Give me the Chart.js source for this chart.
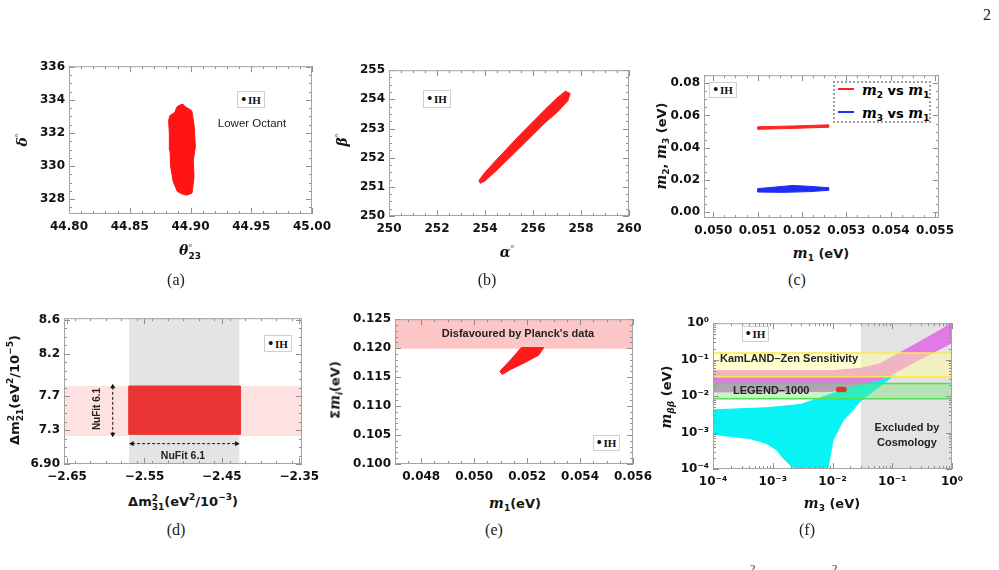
<!DOCTYPE html>
<html>
<head>
<meta charset="utf-8">
<script src="https://cdn.jsdelivr.net/npm/chart.js@4.4.1/dist/chart.umd.min.js"></script>
<style>
    body { margin: 0; background: #fff; }
    #page { position: relative; width: 999px; height: 570px; overflow: hidden; background: #fff; }
    canvas { position: absolute; }
    .t { position: absolute; white-space: nowrap; transform: translate(-50%, -50%); color: #151515; line-height: 1; }
    .rot { transform: translate(-50%, -50%) rotate(-90deg); }
    .cap { font-family: 'Liberation Serif', serif; font-size: 16px; color: #222; }
    .ax { font-family: 'DejaVu Sans', sans-serif; font-weight: bold; font-size: 13px; }
    .v { font-family: 'DejaVu Serif', serif; font-style: italic; font-weight: bold; font-size: 14px; }
    .ss { display: inline-block; vertical-align: -4px; font-size: 9px; line-height: 9px; text-align: left; }
    .lab { font-family: 'Liberation Sans', sans-serif; font-weight: bold; font-size: 11px; color: #222; }
    .ih { position: absolute; border: 1px solid #cfcfcf; background: #fff; box-sizing: border-box;
          font-family: 'Liberation Serif', serif; font-weight: bold; font-size: 11px; color: #111;
          display: flex; align-items: center; justify-content: center; }
    .ih b { font-size: 14px; margin-right: 2px; line-height: 10px; }
    sub { font-size: 9px; vertical-align: -3px; }
    sup { font-size: 9px; vertical-align: 6px; }
</style>
</head>
<body>
<div id="page">
    <div class="t cap" style="left:987px;top:15px;">2</div>

    <!-- (a) -->
    <div class="t rot" style="left:22px;top:140px;"><span class="v">δ</span><sup>°</sup></div>
    <div class="t" style="left:190px;top:251px;"><span class="v">θ</span><span class="ss">°<br><b style="font-family:'DejaVu Sans'">23</b></span></div>
    <div class="t cap" style="left:176px;top:280px;">(a)</div>
    <div class="ih" style="left:237px;top:91px;width:28px;height:17px;"><b>•</b>IH</div>
    <div class="t" style="left:252px;top:124px;font-family:'Liberation Sans',sans-serif;font-size:11.5px;color:#222;">Lower Octant</div>

    <!-- (b) -->
    <div class="t rot" style="left:342px;top:140px;"><span class="v">β</span><sup>°</sup></div>
    <div class="t" style="left:507px;top:252px;"><span class="v">α</span><sup>°</sup></div>
    <div class="t cap" style="left:487px;top:280px;">(b)</div>
    <div class="ih" style="left:423px;top:90px;width:28px;height:18px;"><b>•</b>IH</div>

    <!-- (c) -->
    <div class="t rot ax" style="left:662px;top:146px;"><span class="v">m</span><sub>2</sub>, <span class="v">m</span><sub>3</sub> (eV)</div>
    <div class="t ax" style="left:821px;top:254px;"><span class="v">m</span><sub>1</sub> (eV)</div>
    <div class="t cap" style="left:797px;top:280px;">(c)</div>
    <div class="ih" style="left:709px;top:82px;width:28px;height:16px;"><b>•</b>IH</div>
    <div style="position:absolute;left:833px;top:81px;width:98px;height:42px;border:2px dotted #a0a0a0;box-sizing:border-box;background:#fff;"></div>
    <div style="position:absolute;left:838px;top:88px;width:16px;height:2px;background:#ff2020;"></div>
    <div class="ax" style="position:absolute;left:862px;top:82px;white-space:nowrap;"><span class="v">m</span><sub>2</sub> vs <span class="v">m</span><sub>1</sub></div>
    <div style="position:absolute;left:838px;top:111px;width:16px;height:2px;background:#2030ff;"></div>
    <div class="ax" style="position:absolute;left:862px;top:105px;white-space:nowrap;"><span class="v">m</span><sub>3</sub> vs <span class="v">m</span><sub>1</sub></div>

    <!-- (d) -->
    <div class="t rot ax" style="left:15px;top:390px;">Δm<span class="ss">2<br>21</span>(eV<sup>2</sup>/10<sup>−5</sup>)</div>
    <div class="t ax" style="left:183px;top:502px;">Δm<span class="ss">2<br>31</span>(eV<sup>2</sup>/10<sup>−3</sup>)</div>
    <div class="t cap" style="left:176px;top:530px;">(d)</div>
    <div class="ih" style="left:264px;top:335px;width:28px;height:17px;"><b>•</b>IH</div>
    <div class="t rot lab" style="left:97px;top:409px;font-size:10px;">NuFit 6.1</div>
    <div class="t lab" style="left:183px;top:455px;font-size:10.5px;">NuFit 6.1</div>

    <!-- (e) -->
    <div class="t rot ax" style="left:336px;top:390px;">Σ<span class="v">m</span><sub><i>i</i></sub>(eV)</div>
    <div class="t ax" style="left:515px;top:504px;"><span class="v">m</span><sub>1</sub>(eV)</div>
    <div class="t cap" style="left:494px;top:530px;">(e)</div>
    <div class="ih" style="left:593px;top:435px;width:27px;height:16px;"><b>•</b>IH</div>
    <div class="t lab" style="left:518px;top:333px;">Disfavoured by Planck's data</div>

    <!-- (f) -->
    <div class="t rot ax" style="left:667px;top:397px;"><span class="v">m</span><sub><i>ββ</i></sub> (eV)</div>
    <div class="t ax" style="left:832px;top:504px;"><span class="v">m</span><sub>3</sub> (eV)</div>
    <div class="t cap" style="left:807px;top:530px;">(f)</div>
    <div class="ih" style="left:742px;top:326px;width:27px;height:16px;"><b>•</b>IH</div>
    <div class="lab" style="position:absolute;left:720px;top:352px;white-space:nowrap;">KamLAND–Zen Sensitivity</div>
    <div class="lab" style="position:absolute;left:733px;top:384px;white-space:nowrap;">LEGEND–1000</div>
    <div class="t lab" style="left:907px;top:427px;">Excluded by</div>
    <div class="t lab" style="left:907px;top:442px;">Cosmology</div>

    <div class="cap" style="position:absolute;left:750px;top:562px;font-size:11px;">2</div>
    <div class="cap" style="position:absolute;left:832px;top:562px;font-size:11px;">2</div>
</div>

<script>
    // ---------- (a) delta vs theta23 ----------
    const aXTicks = [44.80, 44.85, 44.90, 44.95, 45.00];
    const aXLabels = ['44.80', '44.85', '44.90', '44.95', '45.00'];
    const aYTicks = [328, 330, 332, 334, 336];
    const aYLabels = ['328', '330', '332', '334', '336'];
    const aCloud = [
        {x: 44.890, y: 333.65}, {x: 44.8936, y: 333.75}, {x: 44.8957, y: 333.59}, {x: 44.901, y: 333.35},
        {x: 44.9018, y: 333.05}, {x: 44.9031, y: 332.35}, {x: 44.904, y: 331.15}, {x: 44.9023, y: 330.35},
        {x: 44.9029, y: 329.35}, {x: 44.9018, y: 328.66}, {x: 44.9012, y: 328.36}, {x: 44.8968, y: 328.24},
        {x: 44.8928, y: 328.32}, {x: 44.8892, y: 328.46}, {x: 44.8858, y: 329.05}, {x: 44.8837, y: 329.95},
        {x: 44.8831, y: 330.95}, {x: 44.8826, y: 331.95}, {x: 44.882, y: 332.75}, {x: 44.883, y: 333.05},
        {x: 44.8872, y: 333.25}, {x: 44.8886, y: 333.55}, {x: 44.890, y: 333.65}
    ];

    // ---------- (b) beta vs alpha ----------
    const bXTicks = [250, 252, 254, 256, 258, 260];
    const bXLabels = ['250', '252', '254', '256', '258', '260'];
    const bYTicks = [250, 251, 252, 253, 254, 255];
    const bYLabels = ['250', '251', '252', '253', '254', '255'];
    const bCloud = [
        {x: 253.75, y: 251.22}, {x: 253.95, y: 251.45}, {x: 254.5, y: 251.95}, {x: 255.5, y: 252.82},
        {x: 256.5, y: 253.65}, {x: 257.0, y: 254.05}, {x: 257.35, y: 254.28}, {x: 257.55, y: 254.2},
        {x: 257.45, y: 253.95}, {x: 257.0, y: 253.55}, {x: 256.5, y: 253.2}, {x: 255.5, y: 252.38},
        {x: 254.5, y: 251.58}, {x: 254.0, y: 251.2}, {x: 253.8, y: 251.12}, {x: 253.75, y: 251.22}
    ];

    // ---------- (c) m2, m3 vs m1 ----------
    const cXTicks = [0.050, 0.051, 0.052, 0.053, 0.054, 0.055];
    const cXLabels = ['0.050', '0.051', '0.052', '0.053', '0.054', '0.055'];
    const cYTicks = [0, 0.02, 0.04, 0.06, 0.08];
    const cYLabels = ['0.00', '0.02', '0.04', '0.06', '0.08'];
    const cM2 = [
        {x: 0.0510, y: 0.0514}, {x: 0.0510, y: 0.0530}, {x: 0.0518, y: 0.0535}, {x: 0.0526, y: 0.0542},
        {x: 0.0526, y: 0.0527}, {x: 0.0518, y: 0.0520}, {x: 0.0510, y: 0.0514}
    ];
    const cM3 = [
        {x: 0.0510, y: 0.0125}, {x: 0.0510, y: 0.0146}, {x: 0.0514, y: 0.0156}, {x: 0.0518, y: 0.0166},
        {x: 0.0522, y: 0.0160}, {x: 0.0526, y: 0.0152}, {x: 0.0526, y: 0.0136}, {x: 0.0522, y: 0.0128},
        {x: 0.0516, y: 0.0123}, {x: 0.0510, y: 0.0125}
    ];

    // ---------- (d) dm21 vs dm31 ----------
    const dXTicks = [-2.65, -2.55, -2.45, -2.35];
    const dXLabels = ['\u22122.65', '\u22122.55', '\u22122.45', '\u22122.35'];
    const dYTicks = [6.9, 7.3, 7.7, 8.2, 8.6];
    const dYLabels = ['6.90', '7.3', '7.7', '8.2', '8.6'];
    const dGrayBand = [{x: -2.569, y: 6.8}, {x: -2.428, y: 6.8}, {x: -2.428, y: 8.7}, {x: -2.569, y: 8.7}, {x: -2.569, y: 6.8}];
    const dPinkBand = [{x: -2.7, y: 7.23}, {x: -2.3, y: 7.23}, {x: -2.3, y: 7.82}, {x: -2.7, y: 7.82}, {x: -2.7, y: 7.23}];
    const dCloud = [{x: -2.570, y: 7.25}, {x: -2.426, y: 7.25}, {x: -2.426, y: 7.82}, {x: -2.570, y: 7.82}, {x: -2.570, y: 7.25}];
    const dVArrow = [{x: -2.591, y: 7.81}, {x: -2.591, y: 7.25}];
    const dHArrow = [{x: -2.566, y: 7.14}, {x: -2.431, y: 7.14}];

    // ---------- (e) sum mi vs m1 ----------
    const eXTicks = [0.048, 0.050, 0.052, 0.054, 0.056];
    const eXLabels = ['0.048', '0.050', '0.052', '0.054', '0.056'];
    const eYTicks = [0.100, 0.105, 0.110, 0.115, 0.120, 0.125];
    const eYLabels = ['0.100', '0.105', '0.110', '0.115', '0.120', '0.125'];
    const ePlanck = [{x: 0.046, y: 0.120}, {x: 0.057, y: 0.120}, {x: 0.057, y: 0.126}, {x: 0.046, y: 0.126}, {x: 0.046, y: 0.120}];
    const eCloud = [
        {x: 0.05106, y: 0.11546}, {x: 0.05097, y: 0.1160}, {x: 0.0514, y: 0.1181}, {x: 0.05178, y: 0.1201},
        {x: 0.05263, y: 0.1201}, {x: 0.05244, y: 0.1188}, {x: 0.05187, y: 0.1174}, {x: 0.05137, y: 0.1163},
        {x: 0.05106, y: 0.11546}
    ];

    // ---------- (f) m_bb vs m3 ----------
    const fTicks = [1e-4, 1e-3, 1e-2, 1e-1, 1];
    const fLabels = ['10\u207B\u2074', '10\u207B\u00B3', '10\u207B\u00B2', '10\u207B\u00B9', '10\u2070'];
    const fCosmo = [{x: 0.031, y: 1e-4}, {x: 1, y: 1e-4}, {x: 1, y: 1}, {x: 0.031, y: 1}, {x: 0.031, y: 1e-4}];
    const fKamland = [{x: 1e-4, y: 0.034}, {x: 1, y: 0.034}, {x: 1, y: 0.153}, {x: 1e-4, y: 0.153}, {x: 1e-4, y: 0.034}];
    const fLegend = [{x: 1e-4, y: 0.0085}, {x: 1, y: 0.0085}, {x: 1, y: 0.022}, {x: 1e-4, y: 0.022}, {x: 1e-4, y: 0.0085}];
    const fIH = [
        {x: 1e-4, y: 0.05}, {x: 0.01, y: 0.05}, {x: 0.03, y: 0.058}, {x: 0.06, y: 0.075}, {x: 0.135, y: 0.155},
        {x: 0.38, y: 0.40}, {x: 1, y: 1}, {x: 1, y: 0.29}, {x: 0.26, y: 0.093}, {x: 0.1, y: 0.04},
        {x: 0.06, y: 0.026}, {x: 0.03, y: 0.018}, {x: 0.01, y: 0.0135}, {x: 1e-4, y: 0.013}, {x: 1e-4, y: 0.05}
    ];
    const fNH = [
        {x: 1e-4, y: 0.0042}, {x: 7.9e-4, y: 0.0048}, {x: 0.0029, y: 0.0059}, {x: 0.0062, y: 0.0089},
        {x: 0.0135, y: 0.0141}, {x: 0.031, y: 0.0205}, {x: 0.062, y: 0.026}, {x: 0.11, y: 0.038},
        {x: 0.1, y: 0.034}, {x: 0.031, y: 0.0079}, {x: 0.015, y: 0.0021}, {x: 0.0102, y: 0.00062},
        {x: 0.0085, y: 1.15e-4}, {x: 0.0079, y: 1e-4}, {x: 0.0025, y: 1e-4}, {x: 0.0021, y: 1.15e-4},
        {x: 0.0015, y: 1.95e-4}, {x: 0.00117, y: 3.3e-4}, {x: 7.9e-4, y: 5e-4}, {x: 4.2e-4, y: 6.8e-4},
        {x: 1e-4, y: 0.00089}, {x: 1e-4, y: 0.0042}
    ];
    const fPoint = [{x: 0.0127, y: 0.0152}, {x: 0.0140, y: 0.0153}, {x: 0.0155, y: 0.0152}];

    const page = document.getElementById('page');

    function minorValues(s, step) {
        const out = [];
        if (!step) return out;
        if (step === 'log') {
            for (let e = Math.floor(Math.log10(s.min)); e < Math.ceil(Math.log10(s.max)); e++) {
                for (let k = 2; k < 10; k++) out.push(k * Math.pow(10, e));
            }
        } else {
            const start = Math.ceil(s.min / step - 1e-9);
            for (let i = start; i * step <= s.max + 1e-12; i++) out.push(i * step);
        }
        return out.filter(v => v >= s.min && v <= s.max);
    }

    // frame with inward ticks on all four sides
    const frameTicks = {
        id: 'frameTicks',
        afterDatasetsDraw(chart, args, opts) {
            const {ctx, chartArea: a} = chart;
            const sx = chart.scales.x, sy = chart.scales.y;
            ctx.save();
            ctx.strokeStyle = '#8f8f8f';
            ctx.lineWidth = 1;
            ctx.beginPath();
            const mark = (s, v, len) => {
                const p = Math.round(s.getPixelForValue(v)) + 0.5;
                if (s.isHorizontal()) {
                    ctx.moveTo(p, a.bottom); ctx.lineTo(p, a.bottom - len);
                    ctx.moveTo(p, a.top); ctx.lineTo(p, a.top + len);
                } else {
                    ctx.moveTo(a.left, p); ctx.lineTo(a.left + len, p);
                    ctx.moveTo(a.right, p); ctx.lineTo(a.right - len, p);
                }
            };
            [[sx, opts.xMinor], [sy, opts.yMinor]].forEach(([s, step]) => {
                minorValues(s, step).forEach(v => mark(s, v, 3));
                s.ticks.forEach(t => {
                    if (t.value >= s.min && t.value <= s.max) mark(s, t.value, 6);
                });
            });
            ctx.stroke();
            ctx.strokeStyle = '#a3a3a3';
            ctx.strokeRect(a.left + 0.5, a.top + 0.5, a.width - 1, a.height - 1);
            ctx.restore();
        }
    };

    const YW = 52, PT = 10, PR = 26, XH = 26;

    function axis(dir, type, min, max, ticks, labels) {
        return {
            type: type, min: min, max: max,
            afterBuildTicks: s => { s.ticks = ticks.map(v => ({value: v})); },
            afterFit: s => { if (dir === 'x') s.height = XH; else s.width = YW; },
            ticks: {
                autoSkip: false, maxRotation: 0, padding: dir === 'x' ? 6 : 4, color: '#111',
                font: {family: "'DejaVu Sans', sans-serif", weight: 'bold', size: 12},
                callback: (v, i) => labels[i]
            },
            grid: {display: false, drawTicks: false},
            border: {display: false}
        };
    }

    // closed outline filled inside
    function poly(data, fillColor, lineColor, order, width) {
        return {
            data: data, showLine: true, fill: 'shape', backgroundColor: fillColor,
            borderColor: lineColor || fillColor, borderWidth: width || 1,
            pointRadius: 0, tension: 0, order: order
        };
    }

    function makePanel(rect, cfg) {
        const cv = document.createElement('canvas');
        const W = YW + rect.w + PR, H = PT + rect.h + XH;
        cv.width = W; cv.height = H;
        cv.style.left = (rect.x - YW) + 'px';
        cv.style.top = (rect.y - PT) + 'px';
        cv.style.width = W + 'px';
        cv.style.height = H + 'px';
        page.insertBefore(cv, page.firstChild);
        return new Chart(cv, {
            type: 'line',
            data: {datasets: cfg.datasets},
            options: {
                responsive: false,
                animation: false,
                devicePixelRatio: 1,
                layout: {autoPadding: false, padding: {top: PT, right: PR, left: 0, bottom: 0}},
                plugins: {
                    legend: {display: false},
                    tooltip: {enabled: false},
                    frameTicks: {xMinor: cfg.xMinor, yMinor: cfg.yMinor}
                },
                scales: {
                    x: axis('x', cfg.type || 'linear', cfg.xMin, cfg.xMax, cfg.xTicks, cfg.xLabels),
                    y: axis('y', cfg.type || 'linear', cfg.yMin, cfg.yMax, cfg.yTicks, cfg.yLabels)
                }
            },
            plugins: [frameTicks]
        });
    }

    makePanel({x: 69, y: 65, w: 243, h: 149}, {
        xMin: 44.80, xMax: 45.00, yMin: 327.1, yMax: 336.04,
        xTicks: aXTicks, xLabels: aXLabels, yTicks: aYTicks, yLabels: aYLabels,
        xMinor: 0.01, yMinor: 0.5,
        datasets: [poly(aCloud, '#ff1414', '#ff1414', 1)]
    });

    makePanel({x: 389, y: 69, w: 240, h: 147}, {
        xMin: 250, xMax: 260, yMin: 250, yMax: 255,
        xTicks: bXTicks, xLabels: bXLabels, yTicks: bYTicks, yLabels: bYLabels,
        xMinor: 0.5, yMinor: 0.25,
        datasets: [poly(bCloud, '#ff1c1c', '#ff1c1c', 1)]
    });

    makePanel({x: 704, y: 74, w: 235, h: 144}, {
        xMin: 0.04979, xMax: 0.05509, yMin: -0.0036, yMax: 0.085,
        xTicks: cXTicks, xLabels: cXLabels, yTicks: cYTicks, yLabels: cYLabels,
        xMinor: 0.00025, yMinor: 0.005,
        datasets: [
            poly(cM2, '#ff2424', '#ff2424', 1),
            poly(cM3, '#1f2cf5', '#1f2cf5', 2)
        ]
    });

    makePanel({x: 64, y: 317, w: 238, h: 147}, {
        xMin: -2.654, xMax: -2.3465, yMin: 6.9, yMax: 8.62,
        xTicks: dXTicks, xLabels: dXLabels, yTicks: dYTicks, yLabels: dYLabels,
        xMinor: 0.02, yMinor: 0.1,
        datasets: [
            poly(dGrayBand, '#e4e4e4', '#e4e4e4', 5),
            poly(dPinkBand, 'rgba(253,205,205,0.6)', 'rgba(0,0,0,0)', 4),
            poly(dCloud, '#ea3434', '#ea3434', 3),
            {data: dVArrow, showLine: true, borderColor: '#111', borderWidth: 1, borderDash: [3, 2],
             pointStyle: 'triangle', pointRadius: 3, pointRotation: [0, 180], pointBackgroundColor: '#111',
             pointBorderWidth: 0, fill: false, order: 1},
            {data: dHArrow, showLine: true, borderColor: '#111', borderWidth: 1, borderDash: [3, 2],
             pointStyle: 'triangle', pointRadius: 3, pointRotation: [-90, 90], pointBackgroundColor: '#111',
             pointBorderWidth: 0, fill: false, order: 1}
        ]
    });

    makePanel({x: 395, y: 318, w: 238, h: 146}, {
        xMin: 0.04701, xMax: 0.056, yMin: 0.100, yMax: 0.125,
        xTicks: eXTicks, xLabels: eXLabels, yTicks: eYTicks, yLabels: eYLabels,
        xMinor: 0.0005, yMinor: 0.001,
        datasets: [
            poly(ePlanck, '#fdc6c6', '#fdc6c6', 3),
            poly(eCloud, '#ff1a1a', '#ff1a1a', 1)
        ]
    });

    makePanel({x: 713, y: 322, w: 239, h: 147}, {
        type: 'logarithmic',
        xMin: 1e-4, xMax: 1, yMin: 1e-4, yMax: 1,
        xTicks: fTicks, xLabels: fLabels, yTicks: fTicks, yLabels: fLabels,
        xMinor: 'log', yMinor: 'log',
        datasets: [
            poly(fCosmo, '#e3e3e3', '#e3e3e3', 9),
            poly(fIH, '#e27ae6', '#e27ae6', 8),
            poly(fNH, '#08f4f4', '#08f4f4', 7),
            poly(fKamland, 'rgba(255,255,150,0.45)', '#ffe94a', 6, 1.5),
            poly(fLegend, 'rgba(110,225,110,0.38)', '#55dd55', 5, 1.5),
            {data: fPoint, showLine: false, pointRadius: 2.8, pointBackgroundColor: '#d33c1f',
             pointBorderWidth: 0, fill: false, order: 1}
        ]
    });
</script>
</body>
</html>
